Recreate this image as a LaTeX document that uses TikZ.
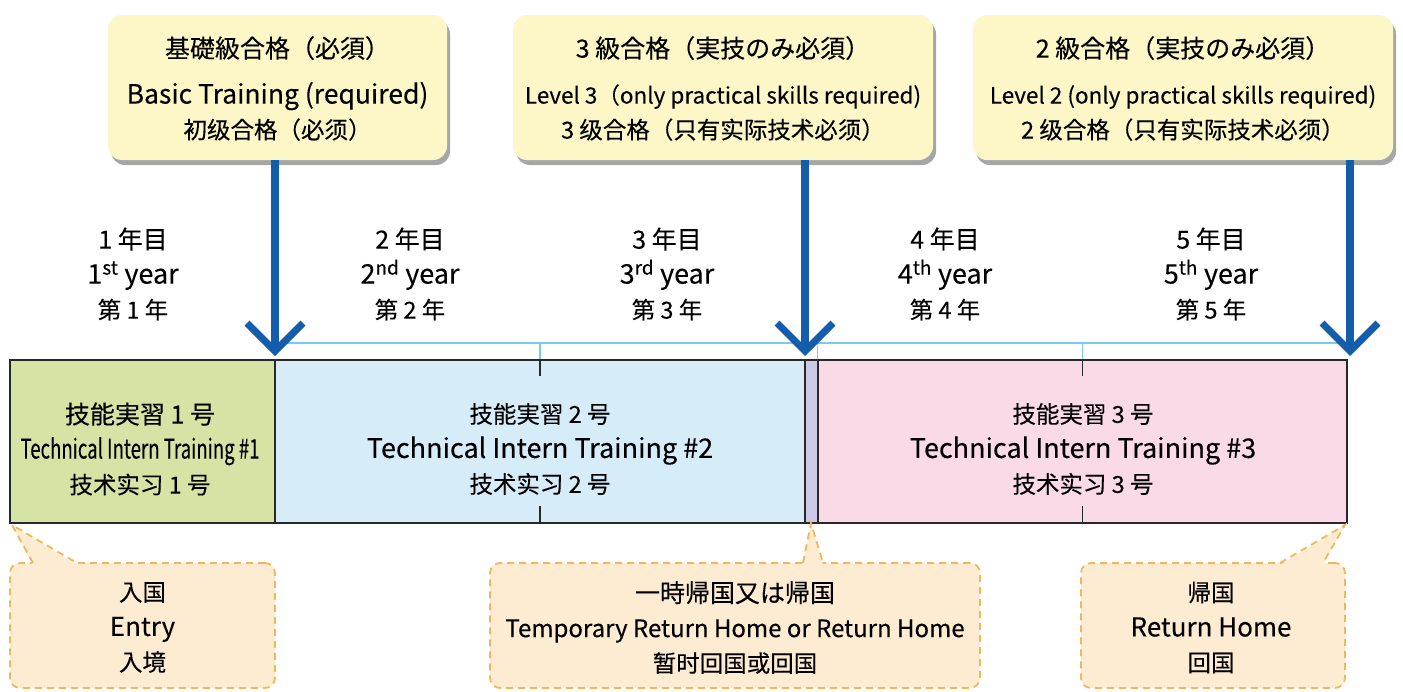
\documentclass[tikz,border=0pt]{standalone}
\usepackage{fontspec}
\setmainfont{Noto Sans CJK JP}[FakeBold=0.18]
\usetikzlibrary{arrows.meta,shadows}
\definecolor{ybox}{RGB}{253,247,200}
\definecolor{cgreen}{RGB}{213,227,165}
\definecolor{cblue}{RGB}{214,236,248}
\definecolor{cpurple}{RGB}{205,200,230}
\definecolor{cpink}{RGB}{249,218,230}
\definecolor{cofill}{RGB}{253,236,210}
\definecolor{codash}{RGB}{240,184,90}
\definecolor{arrblue}{RGB}{20,92,172}
\definecolor{lblue}{RGB}{125,200,235}
\definecolor{edge}{RGB}{40,40,40}
\newcommand{\jpa}{\fontsize{25}{35}\selectfont}
\newcommand{\jpb}{\fontsize{23.5}{35}\selectfont}
\newcommand{\ena}{\fontsize{26.5}{35}\selectfont}
\newcommand{\enb}{\fontsize{22.5}{35}\selectfont}
\newcommand{\enc}{\fontsize{27}{35}\selectfont}
\newcommand{\enx}{\fontsize{26}{35}\selectfont}
\begin{document}
\begin{tikzpicture}[x=1pt,y=-1pt,
  topbox/.style={fill=ybox, rounded corners=14pt, inner sep=0pt,
    drop shadow={shadow xshift=3pt,shadow yshift=-5pt,opacity=0.35,fill=black}},
  tlbox/.style={draw=edge, line width=1.2pt, inner sep=0pt, minimum height=163pt},
  callout/.style={fill=cofill, draw=codash, line width=1.8pt, dash pattern=on 7pt off 5pt,
    rounded corners=10pt, inner sep=0pt, minimum height=125pt},
  tail/.style={draw=codash, line width=1.8pt, dash pattern=on 7pt off 5pt},
  txt/.style={align=center, inner sep=0pt, font=\fontsize{24}{35}\selectfont, text=black},
  barrow/.style={draw=arrblue, line width=8pt, -{Straight Barb[length=28pt,width=56pt,line width=7pt]}},
  lbline/.style={draw=lblue, line width=1.4pt},
  tick/.style={draw=edge, line width=1.2pt}]
\useasboundingbox (0,0) rectangle (1403,691);

% top boxes
\node[topbox, minimum width=339pt, minimum height=145pt] (b1) at (277.5,87.5) {};
\node[topbox, minimum width=420pt, minimum height=145pt] (b2) at (723,87.5) {};
\node[topbox, minimum width=420pt, minimum height=145pt] (b3) at (1183,87.5) {};
\node[txt] (b1t) at ([yshift=-1pt]b1.center) {{\jpa 基礎級合格（必須）}\\[11pt] {\ena Basic Training (required)}\\ {\jpb 初级合格（必须）}};
\node[txt] (b2t) at ([yshift=-1pt]b2.center) {{\jpa 3 級合格（実技のみ必須）}\\[11pt] {\enb Level 3（only practical skills required)}\\ {\jpb 3 级合格（只有实际技术必须）}};
\node[txt] (b3t) at ([yshift=-1pt]b3.center) {{\jpa 2 級合格（実技のみ必須）}\\[11pt] {\enb Level 2 (only practical skills required)}\\ {\jpb 2 级合格（只有实际技术必须）}};

% years
\node[txt] (y1) at (133,274) {{\jpa 1 年目}\\ {\enc 1\textsuperscript{st} year}\\ {\jpb 第 1 年}};
\node[txt] (y2) at (410,274) {{\jpa 2 年目}\\ {\enc 2\textsuperscript{nd} year}\\ {\jpb 第 2 年}};
\node[txt] (y3) at (667,274) {{\jpa 3 年目}\\ {\enc 3\textsuperscript{rd} year}\\ {\jpb 第 3 年}};
\node[txt] (y4) at (945,274) {{\jpa 4 年目}\\ {\enc 4\textsuperscript{th} year}\\ {\jpb 第 4 年}};
\node[txt] (y5) at (1211,274) {{\jpa 5 年目}\\ {\enc 5\textsuperscript{th} year}\\ {\jpb 第 5 年}};

% timeline boxes
\node[tlbox, fill=cgreen, minimum width=265pt] (t1) at (142.5,441.5) {};
\node[tlbox, fill=cblue, minimum width=530pt] (t2) at (540,441.5) {};
\node[tlbox, fill=cpurple, minimum width=13pt] (t3) at (811.5,441.5) {};
\node[tlbox, fill=cpink, minimum width=529pt] (t4) at (1082.5,441.5) {};

% top light blue line and ticks
\coordinate (lt) at (275,343);
\coordinate (rt) at (1350,343);
\draw[lbline] (lt) -- (rt);
\draw[lbline] (t2.north) -- ++(0,-17);
\draw[lbline] (t4.north) -- ++(0,-17);
\draw[lbline] (t4.north west) -- ++(0,-17);
\draw[tick] (t2.north) -- ++(0,17);
\draw[tick] (t2.south) -- ++(0,-18);
\draw[tick] (t4.north) -- ++(0,17);
\draw[tick] (t4.south) -- ++(0,-18);

% timeline texts
\node[txt] (t1t) at (140,449) {{\jpa 技能実習 1 号}\\ {\enc\scalebox{0.69}[1]{Technical Intern Training \#1}}\\ {\jpb 技术实习 1 号}};
\node[txt] (t2t) at (540,449) {{\jpb 技能実習 2 号}\\ {\enc Technical Intern Training \#2}\\ {\jpb 技术实习 2 号}};
\node[txt] (t4t) at (1083,449) {{\jpb 技能実習 3 号}\\ {\enc Technical Intern Training \#3}\\ {\jpb 技术实习 3 号}};

% arrows
\coordinate (e1) at (275,356);
\coordinate (e2) at (805,356);
\coordinate (e3) at (1350,356);
\draw[barrow] (e1 |- b1.south) -- (e1);
\draw[barrow] (e2 |- b2.south) -- (e2);
\draw[barrow] (e3 |- b3.south) -- (e3);

% callouts
\node[callout, minimum width=265pt] (c1) at (142.5,625.5) {};
\node[callout, minimum width=490pt] (c2) at (735,625.5) {};
\node[callout, minimum width=264pt] (c3) at (1213,625.5) {};
\fill[cofill] (33,565) -- (12,525) -- (77,565) -- cycle;
\draw[tail] (33,563) -- (12,525) -- (77,563);
\fill[cofill] (803,565) -- (811,523) -- (823,565) -- cycle;
\draw[tail] (803,563) -- (811,523) -- (823,563);
\fill[cofill] (1280,565) -- (1345,525) -- (1323,565) -- cycle;
\draw[tail] (1280,563) -- (1345,525) -- (1323,563);
\node[txt] (c1t) at ([yshift=-2pt]c1.center) {{\jpb 入国}\\ {\enx Entry}\\ {\jpb 入境}};
\node[txt] (c2t) at ([yshift=-2pt]c2.center) {{\jpa 一時帰国又は帰国}\\ Temporary Return Home or Return Home\\ {\jpb 暂时回国或回国}};
\node[txt] (c3t) at (1211,627.5) {{\jpb 帰国}\\ {\enx Return Home}\\ {\jpb 回国}};
\end{tikzpicture}
\end{document}
